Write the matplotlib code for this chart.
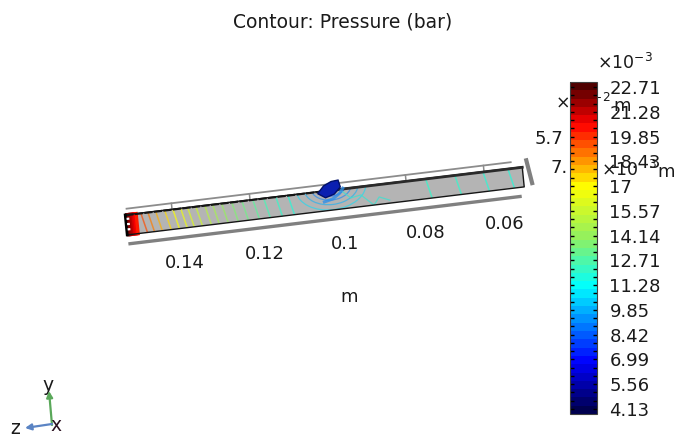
import matplotlib
matplotlib.use("Agg")
import matplotlib.pyplot as plt
from matplotlib.cm import ScalarMappable
from matplotlib.colors import LinearSegmentedColormap, Normalize
from matplotlib.patches import Arc, Polygon
from matplotlib.transforms import Affine2D
from matplotlib.ticker import FixedLocator

title = "Contour: Pressure (bar)"
z_ticks = [0.14, 0.12, 0.1, 0.08, 0.06]
z_labels = ["0.14", "0.12", "0.1", "0.08", "0.06"]
z_tick_px = [(185, 263), (265, 254), (345, 244), (426, 233), (505, 224)]

bar_ticks = [22.71, 21.28, 19.85, 18.43, 17, 15.57, 14.14, 12.71, 11.28, 9.85, 8.42, 6.99, 5.56, 4.13]
bar_labels = ["22.71", "21.28", "19.85", "18.43", "17", "15.57", "14.14", "12.71", "11.28", "9.85", "8.42", "6.99", "5.56", "4.13"]

# contour lines across the beam, read left to right
contour_z = [0.1474, 0.1456, 0.1436, 0.1413, 0.1392, 0.1372, 0.1354, 0.1333, 0.1310,
             0.1290, 0.1267, 0.1241, 0.1215, 0.1187, 0.1159, 0.1128, 0.1097, 0.0744, 0.0669, 0.0597, 0.0533]
contour_p = [19.6, 18.9, 18.2, 17.6, 17.0, 16.6, 16.1, 15.6, 15.1,
             14.6, 14.1, 13.7, 13.3, 12.9, 12.5, 12.1, 11.8, 12.0, 12.0, 11.9, 11.8]

# red end of the beam
end_z = [0.1516, 0.1512, 0.1508, 0.1504, 0.1500, 0.1496, 0.1492]
end_p = [22.7, 22.3, 22.0, 21.6, 21.2, 20.8, 20.3]

# arcs round the dent in the top face
arc_radius = [9, 14, 20, 27, 35]
arc_p = [7.5, 8.3, 9.0, 9.8, 10.6]

# dent, in beam coordinates
dent_z = [0.1027, 0.1010, 0.0990, 0.0972, 0.0968, 0.0985, 0.1008]
dent_s = [0.10, -0.25, -0.42, -0.45, -0.10, 0.22, 0.35]

# lighter rim of the dent, on its lower right side
rim_z = [0.1012, 0.0990, 0.0972, 0.0962]
rim_s = [0.55, 0.45, 0.22, -0.02]

# wiggly contour right of the dent
wiggle_z = [0.0969, 0.0944, 0.0918, 0.0887, 0.0872, 0.0846]
wiggle_s = [0.05, 0.51, 0.42, 1.0, 0.63, 0.85]

colors = [(0, "#00004f"), (0.15, "#0000ff"), (0.38, "#00ffff"), (0.53, "#90f060"),
          (0.69, "#ffff00"), (0.88, "#ff0000"), (1, "#500000")]
cmap = LinearSegmentedColormap.from_list("rainbow_bar", colors)
norm = Normalize(3.84, 23.0)

fig = plt.figure(figsize=(6.93, 4.36), dpi=100)
ax = fig.add_axes([0, 0, 1, 1])
ax.set_xlim(0, 693)
ax.set_ylim(436, 0)
ax.axis("off")

# beam coordinates: z in metres along, s from 0 to 1 across
beam = Affine2D.from_values(-3900, 471.9, 2, 20, 718, 143.2) + ax.transData

z_left, z_right = 0.1520, 0.0502
face = Polygon([(z_left, 0), (z_right, 0), (z_right, 1), (z_left, 1)], closed=True,
               facecolor="#b4b4b4", edgecolor="none", transform=beam, zorder=2)
ax.add_patch(face)

for z, p in zip(end_z, end_p):
    line, = ax.plot([z, z], [0, 1], color=cmap(norm(p)), lw=2.4, transform=beam, zorder=3)
for z, p in zip(contour_z, contour_p):
    line, = ax.plot([z + 0.0006, z - 0.0006], [0, 1], color=cmap(norm(p)), lw=1.1, alpha=0.7, transform=beam, zorder=3)
    line.set_clip_path(face)

for r, p in zip(arc_radius, arc_p):
    arc = Arc((331, 187), 2 * r, 1.3 * r, angle=-7, color=cmap(norm(p)), lw=0.9, alpha=0.55, zorder=3)
    ax.add_patch(arc)
    arc.set_clip_path(face)

wiggle, = ax.plot(wiggle_z, wiggle_s, color="#40e0d0", lw=0.9, alpha=0.8, transform=beam, zorder=3)
wiggle.set_clip_path(face)

# beam outline
ax.plot([z_left, z_right, z_right, z_left, z_left], [0, 0, 1, 1, 0], color="#151515", lw=1.0, transform=beam, zorder=4)
ax.plot([0.0985, z_right], [0.02, 0.02], color="#2a2a2a", lw=2.0, transform=beam, zorder=4)
ax.plot([z_left, 0.1000], [0.02, 0.02], color="#151515", lw=1.5, ls=(0, (4, 0.6)), transform=beam, zorder=4)
ax.plot([z_left, z_left], [0, 1], color="black", lw=2.0, transform=beam, zorder=4)
ax.plot([z_left - 0.0006] * 2, [0.15, 0.85], color="white", lw=2.0, ls=(0, (0.8, 1.1)), transform=beam, zorder=5)

ax.plot(rim_z, rim_s, color="#2f8fe8", lw=2.2, alpha=0.8, transform=beam, zorder=5)
ax.add_patch(Polygon(list(zip(dent_z, dent_s)), closed=True, facecolor="#0a1fb0", edgecolor="#00106a",
                     lw=1.0, transform=beam, zorder=6))

# axis lines round the beam
ax.plot([0.1515, 0.0530], [-0.30, -0.30], color="#8c8c8c", lw=1.3, transform=beam, zorder=1)
ax.plot([0.1515, 0.0515], [1.45, 1.45], color="#808080", lw=2.4, transform=beam, zorder=1)
ax.plot([0.0490, 0.0481], [-0.30, 0.86], color="#808080", lw=3.0, transform=beam, zorder=1)
for z in z_ticks:
    ax.plot([z, z], [-0.30, 0.1], color="#8c8c8c", lw=1.1, transform=beam, zorder=1)

# text
ax.text(343, 22, title, fontsize=13.5, color="#1a1a1a", ha="center", va="center")
for (x, y), label in zip(z_tick_px, z_labels):
    ax.text(x, y, label, fontsize=13, color="#1a1a1a", ha="center", va="center")
ax.text(349, 297, "m", fontsize=13, color="#1a1a1a", ha="center", va="center")

# axis texts that run behind the colour bar
ax.text(555, 103, "×$\\mathregular{10^{-2}}$", fontsize=12.5, color="#1a1a1a", ha="left", va="center")
ax.text(613, 106, "m", fontsize=13, color="#1a1a1a", ha="left", va="center")
ax.text(549, 139, "5.7", fontsize=13, color="#1a1a1a", ha="center", va="center")
ax.text(559, 168, "7.", fontsize=13, color="#1a1a1a", ha="center", va="center")
ax.text(601, 170, "×$\\mathregular{10^{-3}}$", fontsize=12.5, color="#1a1a1a", ha="left", va="center")
ax.text(657, 172, "m", fontsize=13, color="#1a1a1a", ha="left", va="center")
ax.text(597, 63, "×$\\mathregular{10^{-3}}$", fontsize=12.5, color="#1a1a1a", ha="left", va="center")

# axis triad
ax.annotate("", xy=(49, 391), xytext=(52, 425), arrowprops=dict(arrowstyle="-|>", color="#5aa85a", lw=1.6, shrinkA=0, shrinkB=0, mutation_scale=9), zorder=5)
ax.annotate("", xy=(25, 428), xytext=(52, 424), arrowprops=dict(arrowstyle="-|>", color="#5b84c4", lw=1.6, shrinkA=0, shrinkB=0, mutation_scale=9), zorder=5)
ax.text(48, 385, "y", fontsize=13.5, color="#1a1a1a", ha="center", va="center")
ax.text(15, 428, "z", fontsize=13.5, color="#1a1a1a", ha="center", va="center")
ax.text(56, 425, "x", fontsize=13.5, color="#2a1020", ha="center", va="center", zorder=6)

# colour bar
cax = fig.add_axes([569.5 / 693, 1 - 414 / 436, 27.5 / 693, 332 / 436], zorder=2)
cbar = fig.colorbar(ScalarMappable(norm=norm, cmap=cmap.resampled(40)), cax=cax)
cbar.set_ticks(bar_ticks)
cbar.set_ticklabels(bar_labels)
cbar.outline.set_edgecolor("#404040")
cbar.outline.set_linewidth(0.8)
minor = []
for a, b in zip(bar_ticks[:-1], bar_ticks[1:]):
    minor += [a + (b - a) / 3, a + 2 * (b - a) / 3]
cax.yaxis.set_minor_locator(FixedLocator(minor))
cax.tick_params(axis="y", which="both", direction="in", left=True, right=True, length=2.8, width=1.0, color="black")
cax.tick_params(axis="y", which="major", labelsize=13, labelcolor="#1a1a1a", pad=9)

fig.savefig("out.png", dpi=100)
